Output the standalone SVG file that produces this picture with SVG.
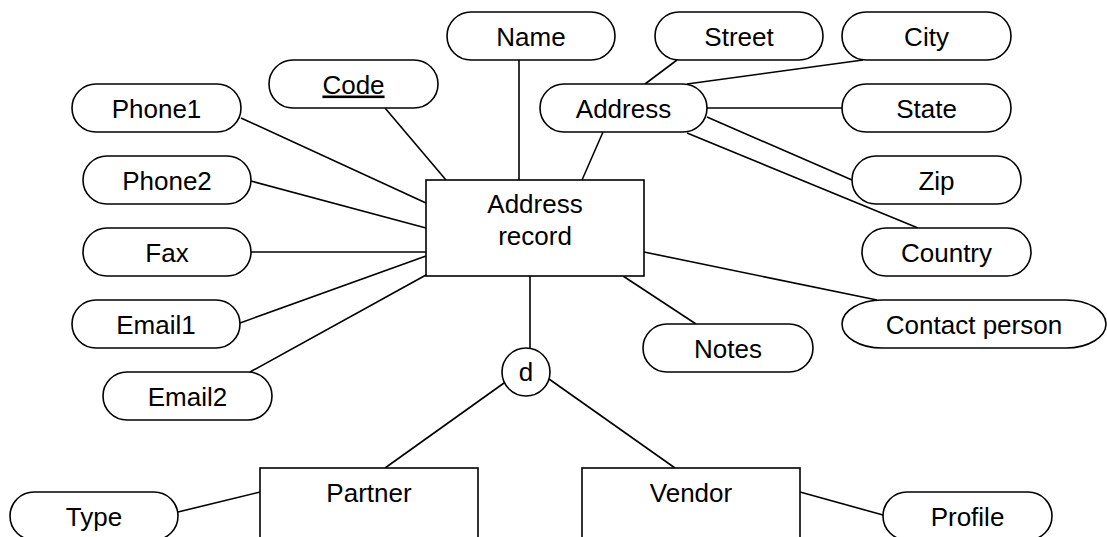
<svg xmlns="http://www.w3.org/2000/svg" width="1107" height="537" viewBox="0 0 1107 537">
<style>
.s{fill:#fff;stroke:#000;stroke-width:1.6}
.t{font-family:"Liberation Sans",Arial,sans-serif;font-size:26px;fill:#000;text-anchor:middle}
#connectors line{stroke:#000;stroke-width:1.6}
</style>
<rect width="1107" height="537" fill="#fff"/>
<g id="connectors">
<line x1="241" y1="118" x2="426" y2="203"/>
<line x1="251" y1="181" x2="426" y2="228"/>
<line x1="251" y1="252" x2="426" y2="252"/>
<line x1="240" y1="323" x2="426" y2="256"/>
<line x1="250" y1="372" x2="426" y2="275"/>
<line x1="385" y1="108" x2="446" y2="180"/>
<line x1="519" y1="60" x2="519" y2="180"/>
<line x1="603" y1="132" x2="582" y2="180"/>
<line x1="677" y1="60" x2="645" y2="84"/>
<line x1="687" y1="84" x2="863" y2="60"/>
<line x1="707" y1="108" x2="842" y2="108"/>
<line x1="707" y1="117" x2="852" y2="180"/>
<line x1="687" y1="133" x2="918" y2="228"/>
<line x1="644" y1="252" x2="877" y2="300"/>
<line x1="623" y1="276" x2="696" y2="324"/>
<line x1="530" y1="276" x2="530" y2="348"/>
<line x1="504" y1="383" x2="385" y2="468"/>
<line x1="549" y1="379" x2="675" y2="468"/>
<line x1="178" y1="512" x2="260" y2="492"/>
<line x1="800" y1="492" x2="883" y2="515"/>
</g>
<g id="address-record"><rect class="s" x="426" y="180" width="218" height="96"/><text class="t" x="535" y="213">Address</text><text class="t" x="535" y="245">record</text></g>
<g id="name"><rect class="s" x="447" y="12" width="168" height="48" rx="24"/><text class="t" x="531" y="45.5">Name</text></g>
<g id="street"><rect class="s" x="655" y="12" width="168" height="48" rx="24"/><text class="t" x="739" y="45.5">Street</text></g>
<g id="city"><rect class="s" x="842" y="12" width="169" height="48" rx="24"/><text class="t" x="926.5" y="45.5">City</text></g>
<g id="code"><rect class="s" x="269" y="60" width="169" height="48" rx="24"/><text class="t" x="353.5" y="93.5" text-decoration="underline">Code</text></g>
<g id="address"><rect class="s" x="540" y="84" width="167" height="48" rx="24"/><text class="t" x="623.5" y="117.5">Address</text></g>
<g id="phone1"><rect class="s" x="72" y="84" width="169" height="48" rx="24"/><text class="t" x="156.5" y="117.5">Phone1</text></g>
<g id="state"><rect class="s" x="842" y="84" width="169" height="48" rx="24"/><text class="t" x="926.5" y="117.5">State</text></g>
<g id="phone2"><rect class="s" x="83" y="156" width="168" height="48" rx="24"/><text class="t" x="167" y="189.5">Phone2</text></g>
<g id="zip"><rect class="s" x="852" y="156" width="169" height="48" rx="24"/><text class="t" x="936.5" y="189.5">Zip</text></g>
<g id="fax"><rect class="s" x="83" y="228" width="168" height="48" rx="24"/><text class="t" x="167" y="261.5">Fax</text></g>
<g id="country"><rect class="s" x="862" y="228" width="169" height="48" rx="24"/><text class="t" x="946.5" y="261.5">Country</text></g>
<g id="email1"><rect class="s" x="72" y="300" width="168" height="48" rx="24"/><text class="t" x="156" y="333.5">Email1</text></g>
<g id="contact-person"><rect class="s" x="842" y="300" width="264" height="48" rx="40" ry="24"/><text class="t" x="974" y="333.5">Contact person</text></g>
<g id="notes"><rect class="s" x="643" y="324" width="170" height="48" rx="24"/><text class="t" x="728" y="357.5">Notes</text></g>
<g id="email2"><rect class="s" x="103" y="372" width="169" height="48" rx="24"/><text class="t" x="187.5" y="405.5">Email2</text></g>
<g id="disjoint"><circle class="s" cx="526" cy="372" r="24"/><text class="t" x="526" y="381">d</text></g>
<g id="partner"><rect class="s" x="260" y="468" width="218" height="96"/><text class="t" x="369" y="502">Partner</text></g>
<g id="vendor"><rect class="s" x="582" y="468" width="218" height="96"/><text class="t" x="691" y="502">Vendor</text></g>
<g id="type"><rect class="s" x="10" y="492" width="168" height="48" rx="24"/><text class="t" x="94" y="525.5">Type</text></g>
<g id="profile"><rect class="s" x="883" y="492" width="169" height="48" rx="24"/><text class="t" x="967.5" y="525.5">Profile</text></g>
</svg>
